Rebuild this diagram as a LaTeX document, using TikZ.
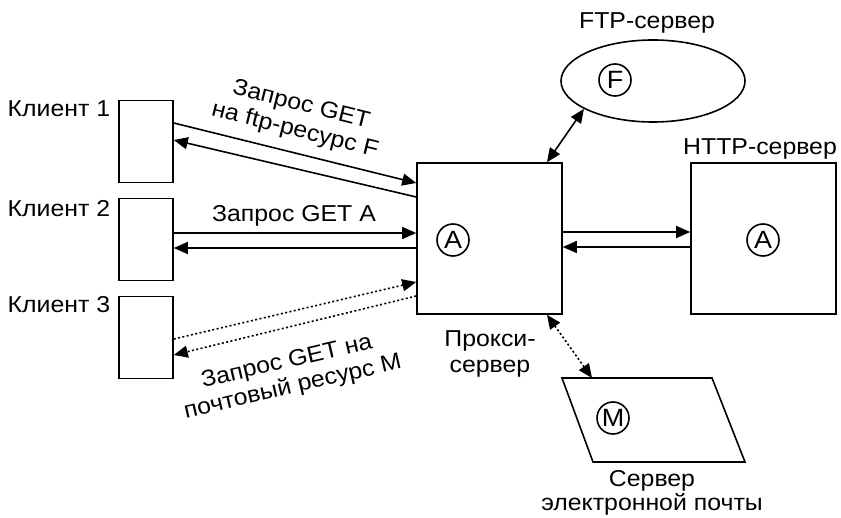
\documentclass[tikz,border=0pt]{standalone}
\usepackage{fontspec}
\setmainfont{Liberation Sans}[FakeStretch=1.08]
\usetikzlibrary{arrows.meta,shapes.geometric,calc}
\begin{document}
\begin{tikzpicture}[x=1pt,y=-1pt,
  line width=1.6pt,
  every node/.style={font=\fontsize{23}{26}\selectfont, inner sep=0pt},
  clientbox/.style={draw, minimum width=54pt, minimum height=82pt},
  serverbox/.style={draw, minimum width=145pt, minimum height=151pt},
  res/.style={draw, circle, minimum size=32pt, font=\fontsize{25}{25}\selectfont},
  lbl/.style={align=center},
  tip/.style={-{Triangle[length=14pt,width=12pt]}},
  dtip/.style={{Triangle[length=14pt,width=12pt]}-{Triangle[length=14pt,width=12pt]}},
  dots/.style={dash pattern=on 2pt off 2.4pt}
]
\useasboundingbox (0,0) rectangle (841,518);

% clients
\node[clientbox] (client1) at (146,141.5) {};
\node[clientbox] (client2) at (146,239.5) {};
\node[clientbox] (client3) at (146,337.5) {};
\node[anchor=base east] (c1lbl) at (111,117) {Клиент 1};
\node[anchor=base east] (c2lbl) at (111,217) {Клиент 2};
\node[anchor=base east] (c3lbl) at (111,313) {Клиент 3};

% servers
\node[serverbox] (proxy) at (489.5,238.5) {};
\node[serverbox] (http) at (763.5,238.5) {};
\node[draw, ellipse, minimum width=184pt, minimum height=82pt] (ftp) at (653,81) {};
\coordinate (mailtl) at (562,378);
\coordinate (mailtr) at (712,378);
\coordinate (mailbr) at (745,462);
\coordinate (mailbl) at (593,462);
\draw (mailtl) -- (mailtr) -- (mailbr) -- (mailbl) -- cycle;
\coordinate (mailtop) at (592,378);

% resources
\node[res] (resA1) at (453,240) {A};
\node[res] (resA2) at (763,240) {A};
\node[res] (resF) at (615,80) {F};
\node[res] (resM) at (613,418) {M};

% server labels
\node[anchor=base] (ftplbl) at (647,29) {FTP-сервер};
\node[anchor=base] (httplbl) at (760,155) {HTTP-сервер};
\node[lbl, anchor=base] (proxylbl) at (490,373) {Прокси-\\сервер};
\node[lbl, anchor=base, font=\fontsize{23}{24}\selectfont] (maillbl) at (652,510) {Сервер\\электронной почты};

% client 1
\draw[tip] (client1.east |- 0,123) -- (proxy.west |- 0,183);
\draw[tip] (proxy.west |- 0,197) -- (client1.east |- 0,140);
\node[lbl, rotate=-14] (l1) at (298,118) {Запрос GET\\на ftp-ресурс F};

% client 2
\draw[tip] (client2.east |- 0,233) -- (proxy.west |- 0,233);
\draw[tip] (proxy.west |- 0,248) -- (client2.east |- 0,248);
\node[anchor=base] (l2) at (294,222) {Запрос GET A};

% client 3
\draw[tip, dots] (client3.east |- 0,339) -- (proxy.west |- 0,282);
\draw[tip, dots] (proxy.west |- 0,296) -- (client3.east |- 0,355);
\node[lbl, rotate=13] (l3) at (290,375) {Запрос GET на\\почтовый ресурс M};

% proxy - http
\draw[tip] (proxy.east |- 0,232) -- (http.west |- 0,232);
\draw[tip] (http.west |- 0,247) -- (proxy.east |- 0,247);

% proxy - ftp
\draw[dtip] (proxy.north -| 547,0) -- (ftp.202);

% proxy - mail
\draw[dtip, dots] (proxy.south -| 547,0) -- (mailtop);
\end{tikzpicture}
\end{document}
